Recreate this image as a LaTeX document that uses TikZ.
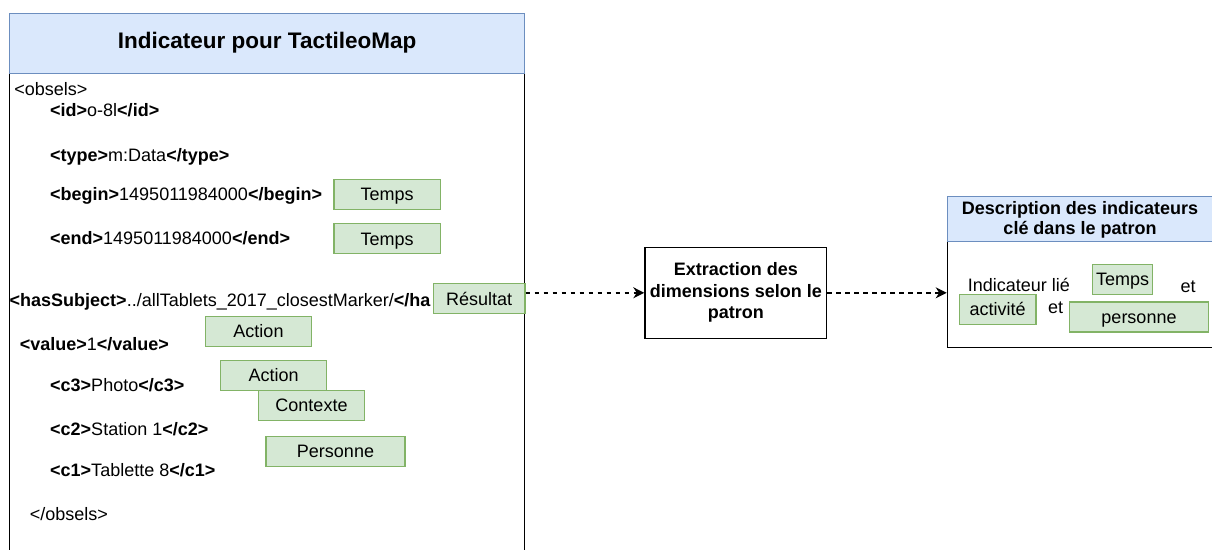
\documentclass[tikz,border=0pt]{standalone}
\usepackage{fontspec}
\setmainfont{Liberation Sans}
\usetikzlibrary{arrows.meta}
\definecolor{bluefill}{HTML}{DAE8FC}
\definecolor{bluedraw}{HTML}{6C8EBF}
\definecolor{greenfill}{HTML}{D5E8D4}
\definecolor{greendraw}{HTML}{82B366}
\begin{document}
\begin{tikzpicture}[x=1pt,y=-1pt,
  hdr/.style={draw=bluedraw, fill=bluefill, line width=1.3pt, inner sep=0pt, anchor=north west},
  bodybox/.style={draw=black, fill=white, line width=1.3pt, inner sep=0pt, anchor=north west},
  gbox/.style={draw=greendraw, fill=greenfill, line width=1.3pt, inner sep=0pt,
    font=\fontsize{18}{21.6}\selectfont, text height=12.9pt, text depth=0pt, minimum height=30pt},
  code/.style={inner sep=0pt, anchor=west, font=\fontsize{18}{21.6}\selectfont, text height=12.9pt, text depth=0pt},
  flow/.style={dash pattern=on 4.5pt off 4.5pt, line width=1.4pt, -{Stealth[length=11pt,width=11pt,inset=3.5pt]}}
]
\path[use as bounding box] (0,0) rectangle (1212,549);
\clip (0,0) rectangle (1212,549);

% left container
\node[bodybox, minimum width=515pt, minimum height=520pt] (lbody) at (9,72.5) {};
\node[hdr, minimum width=515pt, minimum height=60pt] (lhead) at (9,12.5) {};
\node[font=\bfseries\fontsize{22.5}{27}\selectfont, inner sep=0pt] (ltitle) at (lhead.center) {Indicateur pour TactileoMap};

\node[code] (obs) at (14.2,89.5) {<obsels>};
\node[code] (id) at (50,109.8) {\textbf{<id>}o-8l\textbf{</id>}};
\node[code] (ty) at (50,154.7) {\textbf{<type>}m:Data\textbf{</type>}};
\node[code] (be) at (50,194.2) {\textbf{<begin>}1495011984000\textbf{</begin>}};
\node[code] (en) at (50,238) {\textbf{<end>}1495011984000\textbf{</end>}};
\node[code] (hs) at (9.5,300.5) {\textbf{<hasSubject>}../allTablets\_2017\_closestMarker/\textbf{</ha}};
\node[code] (va) at (19.6,344.5) {\textbf{<value>}1\textbf{</value>}};
\node[code] (c3) at (50,385.3) {\textbf{<c3>}Photo\textbf{</c3>}};
\node[code] (c2) at (50,428.6) {\textbf{<c2>}Station 1\textbf{</c2>}};
\node[code] (c1) at (50,470.5) {\textbf{<c1>}Tablette 8\textbf{</c1>}};
\node[code] (cobs) at (29.7,513.7) {</obsels>};

% green tags, left
\node[gbox, minimum width=106.5pt] (t1) at (387.2,194.2) {Temps};
\node[gbox, minimum width=106.5pt] (t2) at (387.2,238.7) {Temps};
\node[gbox, minimum width=91.7pt] (res) at (479.2,298.7) {Résultat};
\node[gbox, minimum width=106pt] (a1) at (258.5,331.2) {Action};
\node[gbox, minimum width=106pt] (a2) at (273.6,375.3) {Action};
\node[gbox, minimum width=106pt] (ctx) at (311.5,405.2) {Contexte};
\node[gbox, minimum width=139pt] (pers) at (335.5,451.2) {Personne};

% extraction
\node[draw, line width=1.3pt, inner sep=0pt, minimum width=181.7pt, minimum height=91pt, align=center,
  font=\bfseries\fontsize{18}{21.5}\selectfont] (ext) at (735.8,292.8) {Extraction des\\dimensions selon le\\patron};

% description container
\node[bodybox, minimum width=267pt, minimum height=105.7pt] (dbody) at (946.7,241) {};
\node[hdr, minimum width=267pt, minimum height=45.3pt] (dhead) at (946.7,195.7) {};
\node[align=center, inner sep=0pt, font=\bfseries\fontsize{18}{20.7}\selectfont] (dtitle) at (1080,219.7) {Description des indicateurs\\clé dans le patron};

\node[code, anchor=center] (il) at (1018.8,285) {Indicateur lié};
\node[gbox, minimum width=60.4pt] (rt) at (1122.5,279.3) {Temps};
\node[code, anchor=center] (et1) at (1188.2,286) {et};
\node[gbox, minimum width=76.7pt] (ra) at (997.7,309.2) {activité};
\node[code, anchor=center] (et2) at (1055.5,306.7) {et};
\node[gbox, minimum width=139.4pt] (rp) at (1139,316.9) {personne};

% connectors
\draw[flow] (ext.west -| res.east) -- (ext.west);
\draw[flow] (ext.east) -- (ext.east -| dbody.west);
\end{tikzpicture}
\end{document}
